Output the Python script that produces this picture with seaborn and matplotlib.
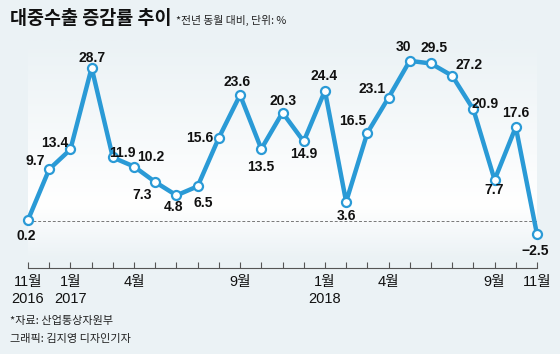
import numpy as np
import pandas as pd
import seaborn as sns
import matplotlib.pyplot as plt
from matplotlib.colors import LinearSegmentedColormap

# 대중수출 증감률 (전년 동월 대비, %)
values = [0.2, 9.7, 13.4, 28.7, 11.9, 10.2, 7.3, 4.8, 6.5, 15.6, 23.6, 13.5,
          20.3, 14.9, 24.4, 3.6, 16.5, 23.1, 30, 29.5, 27.2, 20.9, 7.7, 17.6, -2.5]
value_labels = ["0.2", "9.7", "13.4", "28.7", "11.9", "10.2", "7.3", "4.8", "6.5",
                "15.6", "23.6", "13.5", "20.3", "14.9", "24.4", "3.6", "16.5",
                "23.1", "30", "29.5", "27.2", "20.9", "7.7", "17.6", "−2.5"]
tick_pos = [0, 2, 5, 10, 14, 17, 22, 24]
tick_labels = ["11월\n2016", "1월\n2017", "4월", "9월", "1월\n2018", "4월", "9월", "11월"]

# 라벨 위치 (픽셀 오프셋)
offsets = [(-2, 16), (-14, -8), (-16, -6), (0, -10), (10, -4), (17, -10), (-13, 13),
           (-3, 12), (6, 17), (-19, 0), (-3, -13), (-1, 18), (1, -12), (0, 13),
           (-1, -15), (0, 14), (-15, -12), (-16, -9), (-6, -14), (3, -15),
           (17, -11), (12, -5), (0, 10), (0, -14), (-2, 17)]

bg = "#ebf2f5"
blue = "#2a9ad6"
fonts = ["Liberation Sans", "Noto Sans CJK KR", "DejaVu Sans"]

sns.set_theme(style="white")
plt.rcParams["font.family"] = fonts

df = pd.DataFrame({"idx": range(len(values)), "val": values})

fig = plt.figure(figsize=(5.6, 3.54), dpi=100, facecolor=bg)
ax = fig.add_axes([28 / 560, 1 - 268 / 354, 509 / 560, 228 / 354])
ax.set_facecolor(bg)

ymin, ymax = -8.8, 33.9
ax.set_xlim(0, 24)
ax.set_ylim(ymin, ymax)

# 배경 그라데이션
cmap = LinearSegmentedColormap.from_list("g", [(0, bg), (0.25, "#ffffff"), (1, bg)])
grad = np.linspace(0, 1, 200).reshape(-1, 1)
ax.imshow(grad, extent=[0, 24, ymin + 1.5, ymax], aspect="auto", cmap=cmap,
          origin="lower", zorder=0)

ax.axhline(0, color="#777777", lw=0.7, ls=(0, (3, 2)), zorder=1)

sns.lineplot(data=df, x="idx", y="val", ax=ax, color=blue, lw=3.2, marker="o",
             markersize=6.5, markerfacecolor="white", markeredgecolor=blue,
             markeredgewidth=1.6, zorder=3, clip_on=False)

for i, (v, lab) in enumerate(zip(values, value_labels)):
    dx, dy = offsets[i]
    ax.annotate(lab, (i, v), xytext=(dx * 0.72, -dy * 0.72), textcoords="offset points",
                ha="center", va="center", fontsize=10, fontweight="bold",
                color="#111111", zorder=4)

for s in ["top", "right", "left"]:
    ax.spines[s].set_visible(False)
ax.spines["bottom"].set_color("#555555")
ax.spines["bottom"].set_linewidth(0.8)
ax.set_yticks([])
ax.set_xticks(range(25), minor=True)
ax.set_xticks(tick_pos)
ax.set_xticklabels(tick_labels, fontsize=10.5, linespacing=1.25, family=fonts,
                   color="#111111")
ax.tick_params(axis="x", which="both", direction="in", length=4, width=0.8,
               color="#555555", pad=5, bottom=True)
ax.set_xlabel("")
ax.set_ylabel("")

fig.text(10 / 560, 1 - 18 / 354, "대중수출 증감률 추이", fontsize=13.3, fontweight="bold",
         family=["Noto Sans CJK KR"], va="center", ha="left", color="#111111")
fig.text(176 / 560, 1 - 20 / 354, "*전년 동월 대비, 단위: %", fontsize=7.8,
         family=["Noto Sans CJK KR"], va="center", ha="left", color="#222222")
fig.text(10 / 560, 1 - 321 / 354, "*자료: 산업통상자원부", fontsize=8,
         family=["Noto Sans CJK KR"], va="center", ha="left", color="#222222")
fig.text(10 / 560, 1 - 339 / 354, "그래픽: 김지영 디자인기자", fontsize=8,
         family=["Noto Sans CJK KR"], va="center", ha="left", color="#222222")

fig.savefig("out.png", dpi=100, facecolor=bg)
